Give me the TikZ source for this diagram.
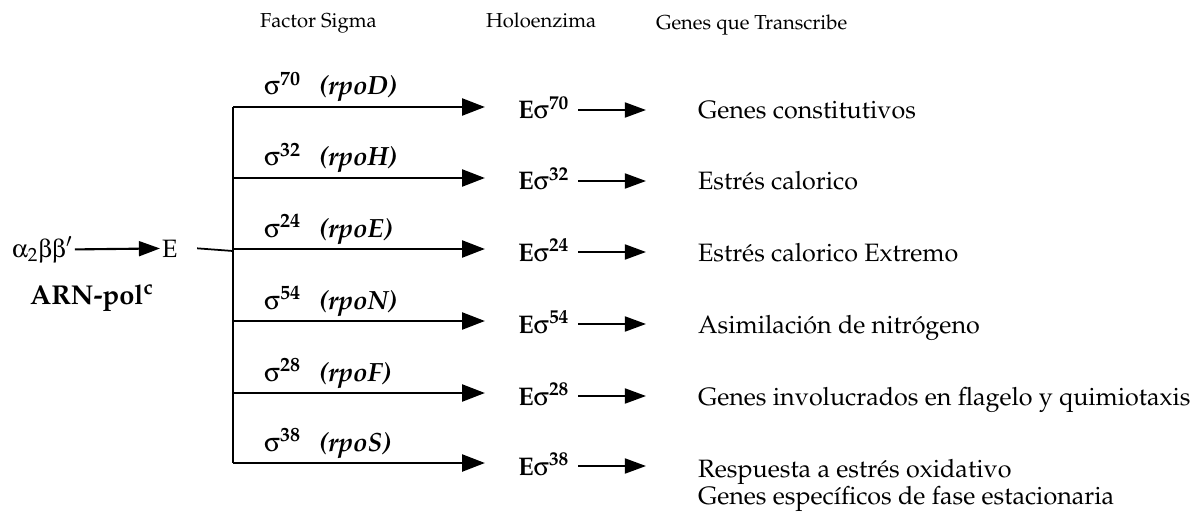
\documentclass[tikz,border=0pt]{standalone}
\usepackage[T1]{fontenc}
\usepackage{mathpazo}
\usepackage[Symbol]{upgreek}
\usetikzlibrary{arrows.meta,positioning}

\begin{document}
\begin{tikzpicture}[
    x=0.02cm,
    y=-0.02cm,
    every node/.style={
        inner sep=1pt,
        font=\fontsize{14.3}{15.5}\selectfont
    },
    head/.style={font=\fontsize{11.5}{13}\selectfont},
    holo/.style={font=\fontsize{14.5}{16}\selectfont\bfseries},
    sig/.style={font=\fontsize{15}{16}\selectfont\bfseries},
    branch/.style={draw,line width=1.7pt,-{Triangle[length=13pt,width=9.5pt]}},
    small/.style={draw,line width=1.2pt,-{Triangle[length=12pt,width=8.5pt]}}
]
\useasboundingbox (0,0) rectangle (1202,513);

% column heads
\node[head,anchor=base west] (hsig) at (258,28) {Factor Sigma};
\node[head,anchor=base west] (hholo) at (484,28) {Holoenzima};
\node[head,anchor=base west] (hgen) at (654,30) {Genes que Transcribe};

% core enzyme
\node[anchor=base west] (core) at (10,257) {$\upalpha_2\upbeta\upbeta'$};
\node[anchor=base west] (E) at (160,257) {E};
\node[font=\fontsize{15.5}{17}\selectfont\bfseries,anchor=base west] (pol) at (28,304)
  {ARN-pol\textsuperscript{c}};
\draw[small] (core) -- (E);

\coordinate (join) at (233,251);
\coordinate (top) at (233,107);
\coordinate (bot) at (233,463);
\draw[line width=1pt] (E.east) ++(10pt,0) -- (join);
\draw[line width=1.7pt] (top) -- (bot);

% one branch per sigma factor
\foreach \y/\s/\g [count=\i] in {107/70/rpoD,178/32/rpoH,249/24/rpoE,
                                 321/54/rpoN,393/28/rpoF,463/38/rpoS}{
  \coordinate (b\i) at (233,\y);
  \coordinate (t\i) at (485,\y);
  \draw[branch] (b\i) -- (t\i);
  \node[sig,anchor=base west] (s\i) at (262,\y-12)
    {$\upsigma$\textsuperscript{\s}\hspace{0.7em}\textit{(\g)}};
  \node[holo,anchor=base west] (h\i) at (516,\y+12) {E$\upsigma$\textsuperscript{\s}};
  \coordinate (a\i) at (646,\y+3);
  \draw[small] (h\i.east |- a\i) ++(4pt,0) -- (a\i);
}

% genes
\foreach \y/\t [count=\i] in {107/Genes constitutivos,178/Estr\'es calorico,
                              249/Estr\'es calorico Extremo,
                              321/Asimilaci\'on de nitr\'ogeno,
                              393/Genes involucrados en flagelo y quimiotaxis}{
  \node[anchor=base west] (g\i) at (696,\y+12) {\t};
}
\node[anchor=north west,align=left] (g6) at (696,457)
  {Respuesta a estr\'es oxidativo\\Genes espec\'{\i}ficos de fase estacionaria};
\end{tikzpicture}
\end{document}
